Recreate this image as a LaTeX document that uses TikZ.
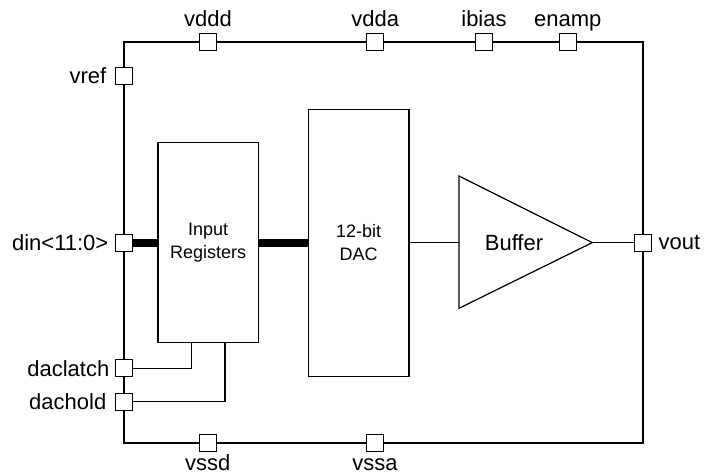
\documentclass[tikz,border=0pt]{standalone}
\usepackage{fontspec}
\setmainfont{Liberation Sans}
\usepackage{tikz}
\usetikzlibrary{positioning, calc}

\begin{document}
\begin{tikzpicture}[
    x=1pt,
    y=-1pt,
    line width=1.2pt,
    padbox/.style={draw, fill=white, rectangle, minimum size=17pt, inner sep=0pt},
    padlab/.style={font=\fontsize{22}{26}\selectfont, inner sep=0pt, text depth=0pt},
    blockbox/.style={draw, rectangle, align=center, inner sep=0pt, font=\fontsize{18}{22.7}\selectfont},
    bus/.style={line width=8pt}
]

\useasboundingbox (0,0) rectangle (712,474);

% --- Outer frame ---
\draw (124,42) rectangle (643,443);

% --- Pads on the frame ---
\node[padbox, label={[padlab, label distance=6pt]above:vddd}]  (vddd)  at (208,42) {};
\node[padbox, label={[padlab, label distance=6pt]above:vdda}]  (vdda)  at (375.3,42) {};
\node[padbox, label={[padlab, label distance=6pt]above:ibias}] (ibias) at (484,42) {};
\node[padbox, label={[padlab, label distance=6pt]above:enamp}] (enamp) at (567.7,42) {};

\node[padbox, label={[padlab, label distance=8pt]left:vref}]          (vref)     at (124,75.7) {};
\node[padbox, label={[padlab, label distance=6pt]left:din<11:0>}]     (din)      at (124,242.6) {};
\node[padbox, label={[padlab, label distance=5pt]left:daclatch}]      (daclatch) at (124,368.3) {};
\node[padbox, label={[padlab, label distance=8pt]left:dachold}]       (dachold)  at (124,401.7) {};

\node[padbox, label={[padlab, label distance=6pt]right:vout}] (vout) at (643,242.6) {};

\node[padbox, label={[padlab, label distance=2pt]below:vssd}] (vssd) at (207.7,443) {};
\node[padbox, label={[padlab, label distance=6pt]below:vssa}] (vssa) at (375,443) {};

% --- Blocks ---
\node[blockbox, minimum width=100.6pt, minimum height=200.4pt] (reg) at (208.2,242.6) {Input\\Registers};
\node[blockbox, minimum width=100.7pt, minimum height=267pt]   (dac) at (358.7,242.6) {12-bit\\DAC};

% Buffer (triangle)
\coordinate (bufin)  at (459,242.6);
\coordinate (bufout) at (592.3,242.6);
\draw (459,176) -- (bufout) -- (459,308.3) -- cycle;
\node[font=\fontsize{22}{26}\selectfont, inner sep=0pt] (buf) at (514,242.6) {Buffer};

% --- Connections ---
\draw[bus] (din.east) -- (reg.west);
\draw[bus] (reg.east) -- (dac.west);
\draw (dac.east) -- (bufin);
\draw (bufout) -- (vout.west);

% control lines into the registers
\draw (daclatch.east) -| ([xshift=-16.5pt]reg.south);
\draw (dachold.east)  -| ([xshift=16.8pt]reg.south);

\end{tikzpicture}
\end{document}
